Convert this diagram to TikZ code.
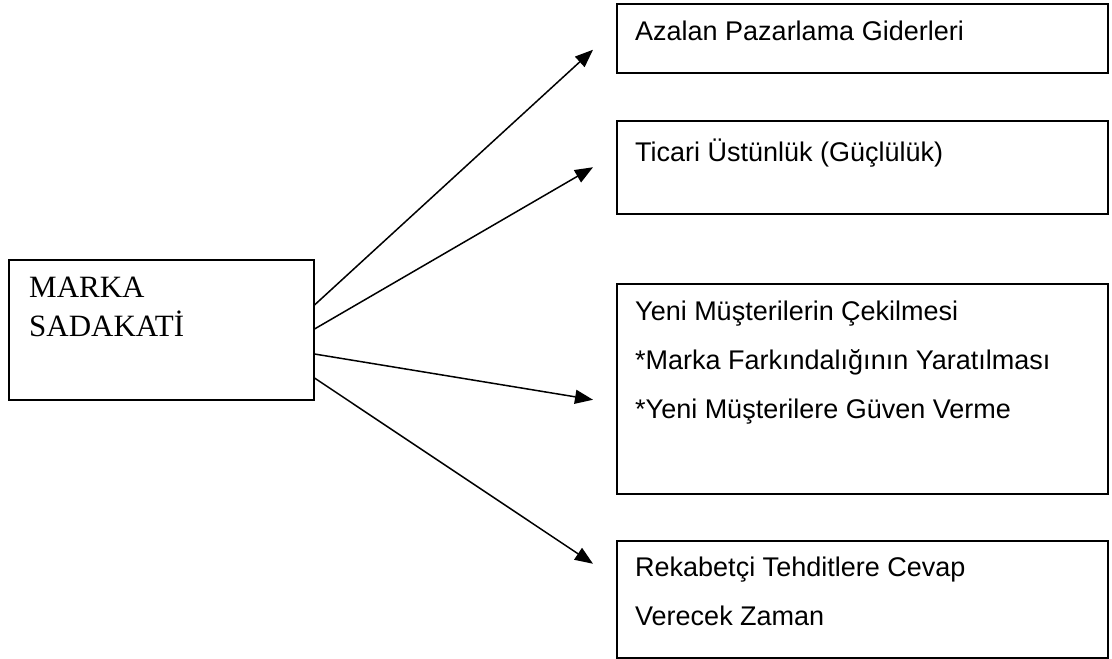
\documentclass[tikz,border=0pt]{standalone}
\usepackage{fontspec}
\setmainfont{Liberation Serif}
\newfontfamily\arialfont{Liberation Sans}
\usetikzlibrary{arrows.meta,calc}

\begin{document}
\begin{tikzpicture}[x=1pt,y=-1pt,
  box/.style={draw,line width=1.5pt,inner sep=0pt,anchor=north west,minimum width=491pt},
  txt/.style={anchor=base west,inner sep=0pt,align=left,font=\arialfont\fontsize{27}{49}\selectfont},
  arr/.style={line width=1.5pt,-{Triangle[length=18pt,width=14pt]}}]
\useasboundingbox (0,0) rectangle (1112,659);
\node[draw,line width=1.5pt,inner sep=0pt,anchor=north west,minimum width=305pt,minimum height=140pt] (marka) at (8,259) {};
% base = baseline of the last line
\node[anchor=base west,inner sep=0pt,align=left,font=\fontsize{31}{39}\selectfont] (markatxt) at ($(marka.north west)+(21,77)$) {MARKA\\SADAKATİ};
\node[box,minimum height=69pt] (azalan) at (616,3) {};
\node[txt] (azalantxt) at ($(azalan.north west)+(19,37)$) {Azalan Pazarlama Giderleri};
\node[box,minimum height=93pt] (ticari) at (616,120) {};
\node[txt] (ticaritxt) at ($(ticari.north west)+(19,41)$) {Ticari Üstünlük (Güçlülük)};
\node[box,minimum height=210pt] (yeni) at (616,283) {};
\node[txt] (yenitxt) at ($(yeni.north west)+(19,135)$) {Yeni Müşterilerin Çekilmesi\\*Marka Farkındalığının Yaratılması\\*Yeni Müşterilere Güven Verme};
\node[box,minimum height=117pt] (rekabet) at (616,540) {};
\node[txt] (rekabettxt) at ($(rekabet.north west)+(19,85)$) {Rekabetçi Tehditlere Cevap\\Verecek Zaman};
\draw[arr] ($(marka.north east)+(0,46)$) -- ($(azalan.west)+(-23,11.5)$);
\draw[arr] ($(marka.north east)+(0,70)$) -- ($(ticari.west)+(-23,0)$);
\draw[arr] ($(marka.north east)+(0,95)$) -- ($(yeni.west)+(-23,11)$);
\draw[arr] ($(marka.north east)+(0,119)$) -- ($(rekabet.west)+(-23,-35.5)$);
\end{tikzpicture}
\end{document}
